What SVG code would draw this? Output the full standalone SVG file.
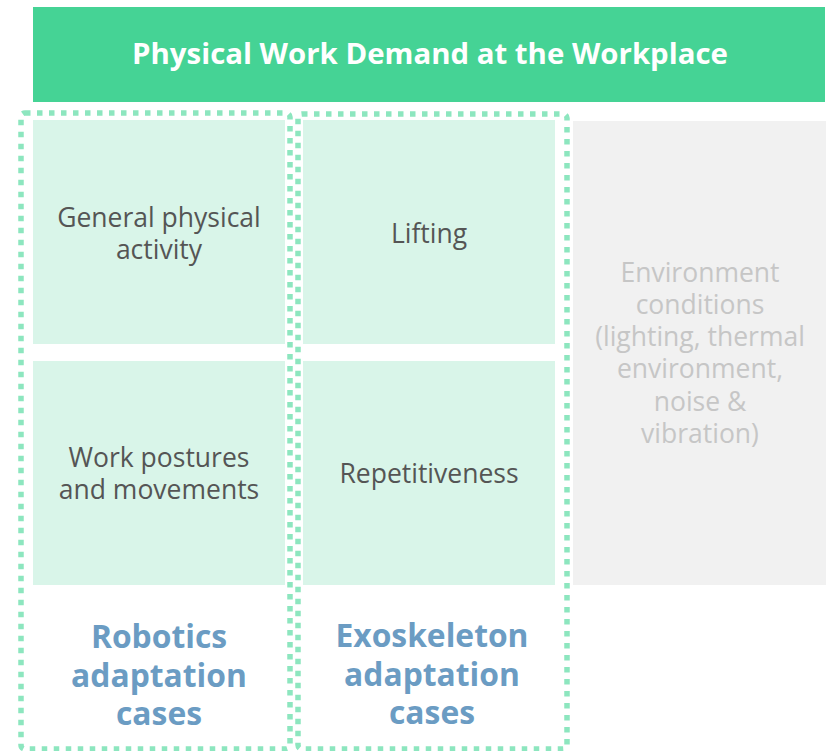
<svg xmlns="http://www.w3.org/2000/svg" width="829" height="751" viewBox="0 0 829 751">
  <style>
    .cell { fill: #d9f5e9; }
    .gray { fill: #f1f1f1; }
    .txt { font-family: "Open Sans", "Noto Sans", sans-serif; font-size: 26.5px; fill: #555555; text-anchor: middle; }
    .env { font-family: "Open Sans", "Noto Sans", sans-serif; font-size: 26.5px; fill: #c6c6c6; text-anchor: middle; }
    .lbl { font-family: "Open Sans", "Noto Sans", sans-serif; font-size: 31.8px; font-weight: bold; fill: #6b9cc3; text-anchor: middle; }
    .dots { fill: none; stroke: #8de6bf; stroke-width: 5.5; stroke-dasharray: 5.5 6.5; }
  </style>
  <rect width="829" height="751" fill="#ffffff"/>

  <!-- header bar -->
  <g id="header">
    <rect x="33" y="7" width="792" height="95" fill="#45d395"/>
    <text x="430" y="64" font-family="Open Sans, Noto Sans, sans-serif" font-size="29.4" font-weight="bold" fill="#ffffff" text-anchor="middle">Physical Work Demand at the Workplace</text>
  </g>

  <g id="general-activity">
    <rect class="cell" x="33" y="120" width="252" height="224"/>
    <text class="txt" x="159" y="227">General physical</text>
    <text class="txt" x="159" y="259">activity</text>
  </g>
  <g id="work-postures">
    <rect class="cell" x="33" y="361" width="252" height="224"/>
    <text class="txt" x="159" y="467">Work postures</text>
    <text class="txt" x="159" y="499">and movements</text>
  </g>
  <g id="lifting">
    <rect class="cell" x="303" y="120" width="252" height="224"/>
    <text class="txt" x="429" y="243">Lifting</text>
  </g>
  <g id="repetitiveness">
    <rect class="cell" x="303" y="361" width="252" height="224"/>
    <text class="txt" x="429" y="483">Repetitiveness</text>
  </g>
  <g id="environment">
    <rect class="gray" x="573" y="121" width="253" height="464"/>
    <text class="env" x="700" y="282">Environment</text>
    <text class="env" x="700" y="314">conditions</text>
    <text class="env" x="700" y="346">(lighting, thermal</text>
    <text class="env" x="700" y="378">environment,</text>
    <text class="env" x="700" y="411">noise &amp;</text>
    <text class="env" x="700" y="443">vibration)</text>
  </g>

  <!-- dotted grouping frames -->
  <g id="robotics-group">
    <rect class="dots" x="21" y="113" width="269" height="636" rx="4"/>
    <text class="lbl" x="159" y="648">Robotics</text>
    <text class="lbl" x="159" y="687">adaptation</text>
    <text class="lbl" x="159" y="725">cases</text>
  </g>
  <g id="exoskeleton-group">
    <rect class="dots" x="298" y="114" width="269" height="635" rx="4"/>
    <text class="lbl" x="432" y="647">Exoskeleton</text>
    <text class="lbl" x="432" y="686">adaptation</text>
    <text class="lbl" x="432" y="724">cases</text>
  </g>
</svg>
